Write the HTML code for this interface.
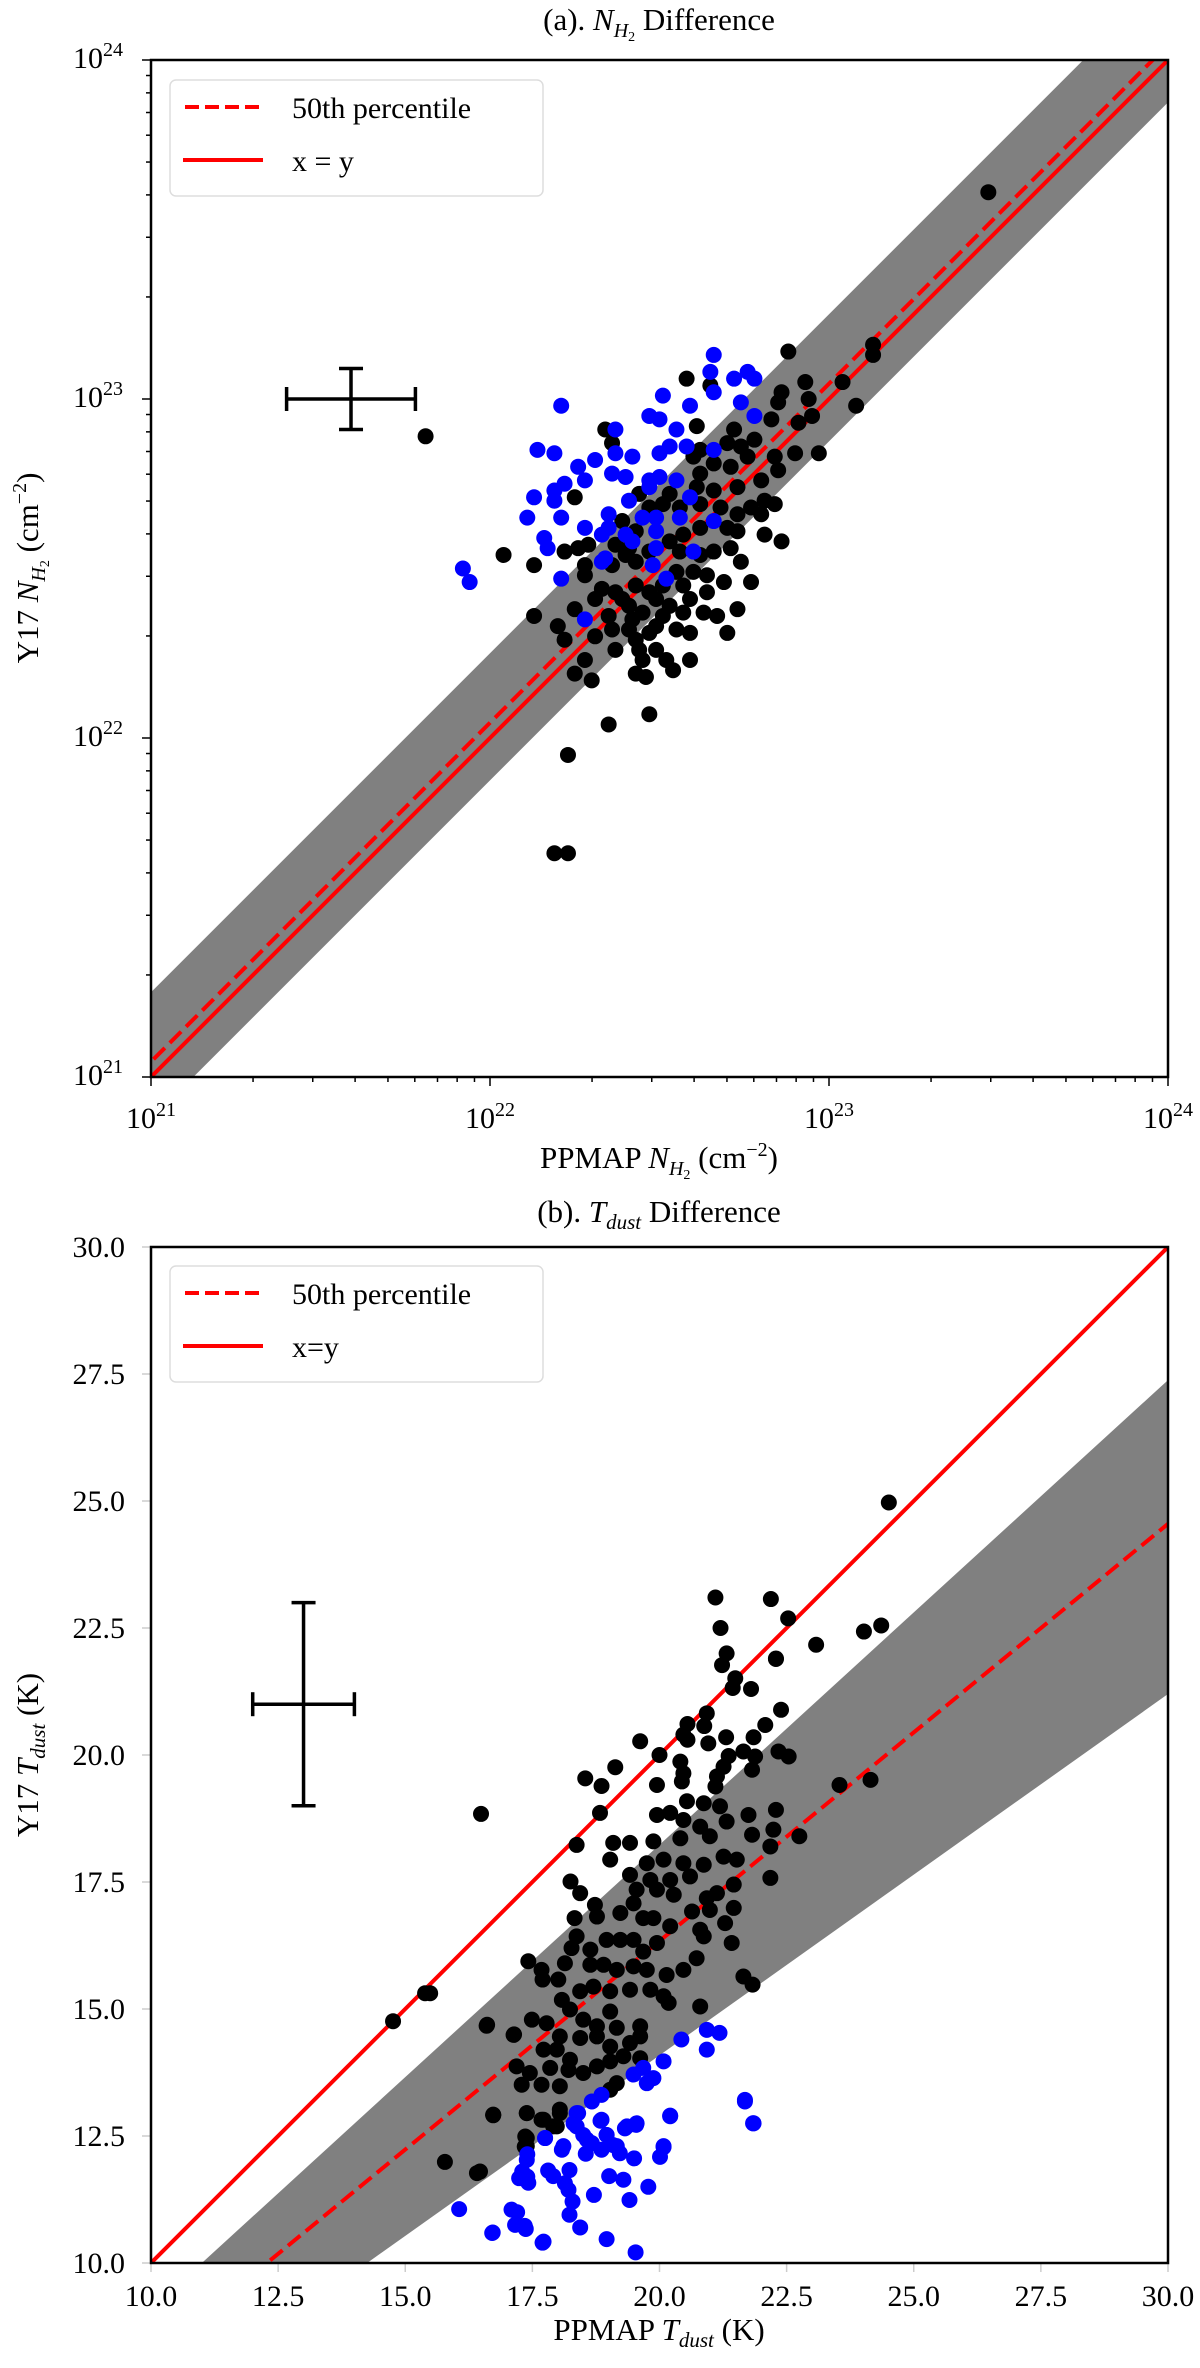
<!DOCTYPE html>
<html><head><meta charset="utf-8"><style>
html,body{margin:0;padding:0;background:#fff;width:1200px;height:2368px;overflow:hidden;}
svg{display:block;font-family:"Liberation Serif",serif;}
</style></head>
<body>
<svg id="fig" width="1200" height="2368" viewBox="0 0 1200 2368" xmlns="http://www.w3.org/2000/svg">
<defs>
<clipPath id="clipA"><rect x="151" y="60" width="1017" height="1017"/></clipPath>
<clipPath id="clipB"><rect x="151" y="1247" width="1017" height="1016"/></clipPath>
</defs>
<g id="panelA"></g>
<g id="panelB"></g>
</svg>
<script>
// ===== Panel A data (log10 column density, cm^-2) =====
const aBlueX=[22.66,22.65,22.72,22.76,22.78,22.66,22.74,22.51,22.59,22.21,22.47,22.50,22.37,22.55,22.78,22.14,22.19,22.31,22.37,22.42,22.26,22.28,22.36,22.40,22.22,22.19,22.13,22.19,22.41,22.47,22.50,22.55,22.47,22.59,22.50,22.53,22.58,22.66,22.11,22.21,22.28,22.35,22.35,22.33,22.45,22.49,22.56,22.66,22.49,22.40,22.42,22.16,22.17,22.49,22.60,22.34,22.33,21.92,21.94,22.21,22.48,22.52,22.28];
const aBlueY=[23.13,23.08,23.06,23.08,23.06,23.02,22.99,23.01,22.98,22.98,22.95,22.94,22.91,22.91,22.95,22.85,22.84,22.82,22.84,22.83,22.80,22.76,22.78,22.77,22.75,22.73,22.71,22.70,22.70,22.76,22.77,22.76,22.74,22.71,22.84,22.86,22.86,22.85,22.65,22.65,22.62,22.66,22.62,22.60,22.65,22.65,22.65,22.64,22.61,22.60,22.58,22.59,22.56,22.56,22.55,22.53,22.52,22.50,22.46,22.47,22.51,22.47,22.35];
const aBlackX=[22.88,23.13,23.13,22.58,22.65,23.04,22.93,22.86,22.85,22.94,23.08,22.95,22.91,22.83,22.61,22.34,22.36,22.72,22.78,22.70,22.74,22.62,22.60,22.97,22.90,22.84,22.76,22.66,22.71,22.62,22.85,22.80,22.73,22.66,22.61,22.53,22.44,22.25,22.81,22.84,22.77,22.80,22.73,22.68,22.62,22.56,22.51,22.47,22.39,22.43,22.62,22.70,22.73,22.81,22.86,22.57,22.53,22.41,22.37,22.29,22.22,22.26,22.04,22.13,22.28,22.28,22.36,22.40,22.43,22.47,22.56,22.62,22.66,22.71,22.74,22.69,22.77,22.64,22.60,22.55,22.51,22.57,22.64,22.47,22.43,22.37,22.33,22.31,22.39,22.49,22.53,22.59,22.63,22.67,22.73,22.70,22.57,22.51,22.45,22.41,22.35,22.25,22.13,22.20,22.22,22.31,22.36,22.41,22.43,22.47,22.55,22.59,22.44,22.49,22.52,22.45,22.59,22.54,22.28,22.25,22.30,22.43,22.46,22.47,22.35,22.23,22.42,22.49,22.37,21.81,23.47,22.19,22.23];
const aBlackY=[23.14,23.16,23.13,23.06,23.04,23.05,23.05,23.02,22.99,23.00,22.98,22.95,22.93,22.94,22.92,22.91,22.87,22.91,22.88,22.87,22.86,22.85,22.83,22.84,22.84,22.83,22.83,22.81,22.80,22.78,22.79,22.76,22.74,22.73,22.74,22.72,22.72,22.71,22.70,22.69,22.68,22.66,22.66,22.68,22.69,22.68,22.69,22.68,22.64,22.61,22.62,22.62,22.61,22.60,22.58,22.60,22.58,22.56,22.57,22.57,22.55,22.56,22.54,22.51,22.51,22.48,22.51,22.54,22.52,22.55,22.55,22.54,22.55,22.56,22.52,22.46,22.46,22.48,22.49,22.49,22.45,22.45,22.43,22.43,22.45,22.43,22.44,22.41,22.41,22.41,22.39,22.41,22.37,22.36,22.38,22.31,22.37,22.36,22.37,22.39,22.36,22.38,22.36,22.33,22.29,22.30,22.32,22.32,22.29,22.31,22.32,22.31,22.26,22.26,22.23,22.23,22.23,22.20,22.23,22.19,22.17,22.19,22.18,22.07,22.04,21.95,22.35,22.33,22.26,22.89,23.61,21.66,21.66];
const aTicks=[21,22,23,24];
const aOffsets=[0.045,0.25,-0.125]; // median offset, band upper, band lower (dex)
const aErr=[21.59,23.0,0.19,0.09];  // x, y, xerr, yerr (dex)

// ===== Panel B data (K) =====
const bBlackX=[21.32,21.23,22.29,21.49,21.44,21.80,22.39,20.93,20.55,20.88,20.47,20.55,20.96,21.31,21.85,22.08,19.62,20.00,20.41,20.47,20.44,21.65,21.88,22.34,22.54,21.82,21.36,21.26,21.13,21.10,19.13,18.54,18.86,19.95,23.54,24.15,16.49,18.83,20.54,20.87,21.19,19.95,20.21,20.47,20.80,21.32,21.75,22.29,22.24,21.82,22.75,22.18,20.99,20.41,19.88,19.09,19.42,19.03,18.37,19.75,20.08,20.47,20.87,21.26,21.52,19.42,19.82,20.21,20.60,21.46,21.13,22.18,18.25,18.44,19.55,19.95,20.28,19.49,18.73,18.77,19.23,19.68,19.88,20.64,20.99,21.46,20.93,18.33,20.21,20.80,21.29,21.42,20.87,19.95,19.68,18.37,18.27,18.64,18.96,19.23,19.49,17.42,17.68,17.70,18.01,18.14,18.64,18.90,19.16,19.49,19.75,20.14,20.47,20.73,21.65,21.83,20.80,20.18,20.08,19.82,19.42,19.03,18.70,18.44,18.08,18.24,18.50,19.03,18.77,19.16,19.62,17.49,17.78,16.60,17.13,18.04,18.44,18.77,19.03,19.42,19.62,17.98,17.72,18.24,18.50,18.77,19.03,19.29,19.62,17.19,17.45,17.85,18.21,17.29,17.68,18.04,19.16,19.03,18.04,16.73,17.39,17.72,17.98,17.36,17.39,24.51,22.19,22.53,23.08,22.29,24.02,24.36,16.73,17.39,17.68,18.04,17.91,17.39,17.35,16.47,14.76,15.39,15.49,16.61,17.14,16.73,15.78,16.41,21.10,21.20];
const bBlackY=[22.00,21.77,21.89,21.51,21.32,21.30,20.89,20.82,20.61,20.57,20.40,20.30,20.23,20.35,20.35,20.59,20.27,20.00,19.87,19.64,19.48,20.07,19.97,20.07,19.97,19.71,19.98,19.77,19.58,19.38,19.76,19.54,19.39,19.41,19.41,19.51,18.84,18.86,19.09,19.05,18.99,18.82,18.86,18.72,18.59,18.69,18.82,18.92,18.53,18.43,18.40,18.20,18.40,18.36,18.30,18.27,18.27,17.94,18.23,17.87,17.94,17.87,17.84,18.00,17.94,17.64,17.54,17.54,17.61,17.45,17.28,17.58,17.51,17.28,17.35,17.35,17.25,17.08,17.05,16.82,16.89,16.79,16.79,16.92,16.95,16.99,17.18,16.79,16.63,16.56,16.69,16.30,16.43,16.30,16.13,16.43,16.20,16.17,16.36,16.36,16.36,15.94,15.77,15.58,15.58,15.90,15.87,15.87,15.77,15.84,15.77,15.67,15.77,16.00,15.64,15.48,15.05,15.12,15.25,15.38,15.38,15.35,15.44,15.35,15.18,14.99,14.79,14.95,14.66,14.63,14.66,14.79,14.72,14.67,14.49,14.46,14.43,14.46,14.26,14.33,14.46,14.20,14.20,14.00,13.74,13.87,13.97,14.07,14.03,13.87,13.74,13.84,13.80,13.51,13.51,13.48,13.54,13.41,13.02,12.92,12.95,12.82,12.69,12.49,12.30,24.97,23.07,22.69,22.17,21.90,22.43,22.55,12.91,12.95,12.82,12.95,12.69,12.46,12.29,11.80,14.76,15.31,15.31,14.69,14.50,12.91,11.99,11.77,23.10,22.50];
const bBlueX=[20.93,21.18,20.43,20.93,20.08,19.68,19.49,19.88,19.75,18.86,18.67,21.68,21.85,20.21,18.86,18.40,18.31,19.36,19.55,17.75,18.96,18.57,20.08,18.11,19.16,20.21,21.84,21.68,19.32,19.54,18.84,18.37,18.37,18.50,18.96,18.67,19.09,18.86,19.22,18.55,19.50,20.08,20.01,17.75,18.08,17.81,17.39,18.23,17.91,18.14,17.24,17.42,18.21,19.01,19.29,19.78,18.71,19.41,18.29,18.23,17.09,17.16,17.35,18.44,16.72,17.72,18.96,19.53,16.06,16.71,17.20,17.37,17.40,17.30,17.40,17.70];
const bBlueY=[14.59,14.53,14.40,14.20,13.97,13.84,13.71,13.64,13.54,13.31,13.18,13.21,12.75,12.89,12.82,12.95,12.75,12.69,12.75,12.46,12.52,12.43,12.30,12.30,12.30,12.90,12.75,13.18,12.65,12.72,12.80,12.95,12.69,12.52,12.52,12.36,12.32,12.23,12.16,12.15,12.06,12.28,12.09,12.46,12.23,11.82,12.03,11.83,11.71,11.57,11.67,11.58,11.44,11.71,11.64,11.50,11.34,11.24,11.21,10.95,11.05,10.75,10.73,10.70,10.60,10.42,10.47,10.21,11.06,10.59,11.00,10.67,12.14,11.80,11.70,10.40];
const bTicks=[10,12.5,15,17.5,20,22.5,25,27.5,30];
const bMedian=[12.28,10,30,24.55];   // x0,y0,x1,y1
const bBandTop=[11.0,10,30,27.38];
const bBandBot=[14.25,10,30,21.2];
const bErr=[13.0,21.0,1.0,2.0];

const NS="http://www.w3.org/2000/svg";
function mk(tag,attrs,parent){const e=document.createElementNS(NS,tag);for(const k in attrs)e.setAttribute(k,attrs[k]);parent.appendChild(e);return e;}

const L=151,R=1168;
const axA={x:v=>L+(v-21)/3*(R-L), y:v=>1077-(v-21)/3*1017};
const axB={x:v=>L+(v-10)/20*(R-L), y:v=>2263-(v-10)/20*1016};

function frame(g,top,h){
  const r=mk('rect',{x:L,y:top,width:R-L,height:h,fill:'none',stroke:'#000','stroke-width':2.5},g);
  
  
}
function dots(g,xs,ys,ax,color,clip,name){
  const gg=mk('g',{'clip-path':clip},g);
  
  
  for(let i=0;i<xs.length;i++){
    const c=mk('circle',{cx:ax.x(xs[i]),cy:ax.y(ys[i]),r:8,fill:color},gg);
    
    
  }
}
function errbar(g,ax,e,name){
  const gg=mk('g',{stroke:'#000','stroke-width':3.5,fill:'none'},g);
  
  
  const cx=ax.x(e[0]),cy=ax.y(e[1]);
  const x0=ax.x(e[0]-e[2]),x1=ax.x(e[0]+e[2]),y0=ax.y(e[1]-e[3]),y1=ax.y(e[1]+e[3]);
  mk('line',{x1:x0,y1:cy,x2:x1,y2:cy},gg);
  mk('line',{x1:cx,y1:y0,x2:cx,y2:y1},gg);
  mk('line',{x1:x0,y1:cy-12,x2:x0,y2:cy+12},gg);
  mk('line',{x1:x1,y1:cy-12,x2:x1,y2:cy+12},gg);
  mk('line',{x1:cx-12,y1:y0,x2:cx+12,y2:y0},gg);
  mk('line',{x1:cx-12,y1:y1,x2:cx+12,y2:y1},gg);
}
function legend(g,top,solidLabel){
  const gg=mk('g',{},g);
  
  
  mk('rect',{x:170,y:top,width:373,height:116,rx:6,fill:'#fff','fill-opacity':0.85,stroke:'#ddd','stroke-width':1.5},gg);
  const d=mk('line',{x1:185,y1:top+27,x2:260,y2:top+27,stroke:'#f00','stroke-width':4,'stroke-dasharray':'14,6'},gg);
  
  
  const s=mk('line',{x1:183,y1:top+80,x2:263,y2:top+80,stroke:'#f00','stroke-width':4},gg);
  
  
  const t1=mk('text',{x:292,y:top+38,'font-size':30,fill:'#000'},gg);t1.textContent='50th percentile';
  
  
  const t2=mk('text',{x:292,y:top+91,'font-size':30,fill:'#000'},gg);t2.textContent=solidLabel;
  
  
}
function txt(g,x,y,s,size,anchor,name){
  const t=mk('text',{x:x,y:y,'font-size':size,'text-anchor':anchor||'middle',fill:'#000'},g);
  t.innerHTML=s;
  
  
  return t;
}

// ===== Panel A =====
(function(){
  const g=document.getElementById('panelA');
  const cg=mk('g',{'clip-path':'url(#clipA)'},g);
  const up=aOffsets[1],lo=aOffsets[2];
  const band=mk('polygon',{points:[[axA.x(20),axA.y(20+up)],[axA.x(25),axA.y(25+up)],[axA.x(25),axA.y(25+lo)],[axA.x(20),axA.y(20+lo)]].map(p=>p.join(',')).join(' '),fill:'#808080'},cg);
  
  
  const l1=mk('line',{x1:axA.x(20),y1:axA.y(20),x2:axA.x(25),y2:axA.y(25),stroke:'#f00','stroke-width':4},cg);
  
  
  const l2=mk('line',{x1:axA.x(20),y1:axA.y(20+aOffsets[0]),x2:axA.x(25),y2:axA.y(25+aOffsets[0]),stroke:'#f00','stroke-width':4,'stroke-dasharray':'16,7'},cg);
  
  
  dots(g,aBlackX,aBlackY,axA,'#000','url(#clipA)','black-points');
  dots(g,aBlueX,aBlueY,axA,'#0000ff','url(#clipA)','blue-points');
  errbar(g,axA,aErr,'typical-error-bar');
  legend(g,80,'x = y');
  const tg=mk('g',{stroke:'#000','stroke-width':1.5},g);
  
  
  for(let d=21;d<24;d++){for(let m=1;m<10;m++){const v=d+Math.log10(m);const len=m===1?9:5;
    mk('line',{x1:axA.x(v),y1:1077,x2:axA.x(v),y2:1077+len},tg);
    mk('line',{x1:L,y1:axA.y(v),x2:L-len,y2:axA.y(v)},tg);}}
  mk('line',{x1:R,y1:1077,x2:R,y2:1086},tg);mk('line',{x1:L,y1:60,x2:L-9,y2:60},tg);
  aTicks.forEach(v=>{
    txt(g,axA.x(v),1128,'10<tspan dy="-12" font-size="20">'+v+'</tspan>',30,'middle','x-tick-label');
    txt(g,123,axA.y(v)+8,'10<tspan dy="-12" font-size="20">'+v+'</tspan>',30,'end','y-tick-label');
  });
  frame(g,60,1017);
  txt(g,659,30,'(a). <tspan font-style="italic">N</tspan><tspan font-style="italic" font-size="20" dy="7">H</tspan><tspan font-size="14" dy="4">2</tspan><tspan dy="-11"> Difference</tspan>',31,'middle','panel-a-title');
  txt(g,659,1168,'PPMAP <tspan font-style="italic">N</tspan><tspan font-style="italic" font-size="20" dy="7">H</tspan><tspan font-size="14" dy="4">2</tspan><tspan dy="-11"> (cm</tspan><tspan font-size="20" dy="-12">−2</tspan><tspan dy="12">)</tspan>',31,'middle','x-axis-title-a');
  const yt=txt(g,0,0,'Y17 <tspan font-style="italic">N</tspan><tspan font-style="italic" font-size="20" dy="7">H</tspan><tspan font-size="14" dy="4">2</tspan><tspan dy="-11"> (cm</tspan><tspan font-size="20" dy="-12">−2</tspan><tspan dy="12">)</tspan>',31,'middle','y-axis-title-a');
  yt.setAttribute('transform','translate(38,568) rotate(-90)');
})();

// ===== Panel B =====
(function(){
  const g=document.getElementById('panelB');
  const cg=mk('g',{'clip-path':'url(#clipB)'},g);
  function lineAt(p,x){return p[1]+(p[3]-p[1])/(p[2]-p[0])*(x-p[0]);}
  const pts=[[5,lineAt(bBandTop,5)],[35,lineAt(bBandTop,35)],[35,lineAt(bBandBot,35)],[5,lineAt(bBandBot,5)]];
  const band=mk('polygon',{points:pts.map(p=>axB.x(p[0])+','+axB.y(p[1])).join(' '),fill:'#808080'},cg);
  
  
  const l1=mk('line',{x1:axB.x(5),y1:axB.y(5),x2:axB.x(35),y2:axB.y(35),stroke:'#f00','stroke-width':4},cg);
  
  
  const l2=mk('line',{x1:axB.x(5),y1:axB.y(lineAt(bMedian,5)),x2:axB.x(35),y2:axB.y(lineAt(bMedian,35)),stroke:'#f00','stroke-width':4,'stroke-dasharray':'16,7'},cg);
  
  
  dots(g,bBlackX,bBlackY,axB,'#000','url(#clipB)','black-points');
  dots(g,bBlueX,bBlueY,axB,'#0000ff','url(#clipB)','blue-points');
  errbar(g,axB,bErr,'typical-error-bar');
  legend(g,1266,'x=y');
  const tg=mk('g',{stroke:'#ccc','stroke-width':1.5},g);
  
  
  bTicks.forEach(v=>{
    mk('line',{x1:axB.x(v),y1:2263,x2:axB.x(v),y2:2272},tg);
    mk('line',{x1:L,y1:axB.y(v),x2:L-9,y2:axB.y(v)},tg);
    txt(g,axB.x(v),2306,v.toFixed(1),30,'middle','x-tick-label');
    txt(g,125,axB.y(v)+10,v.toFixed(1),30,'end','y-tick-label');
  });
  frame(g,1247,1016);
  txt(g,659,1222,'(b). <tspan font-style="italic">T</tspan><tspan font-style="italic" font-size="21" dy="7">dust</tspan><tspan dy="-7"> Difference</tspan>',31,'middle','panel-b-title');
  txt(g,659,2340,'PPMAP <tspan font-style="italic">T</tspan><tspan font-style="italic" font-size="21" dy="7">dust</tspan><tspan dy="-7"> (K)</tspan>',31,'middle','x-axis-title-b');
  const yt=txt(g,0,0,'Y17 <tspan font-style="italic">T</tspan><tspan font-style="italic" font-size="21" dy="7">dust</tspan><tspan dy="-7"> (K)</tspan>',31,'middle','y-axis-title-b');
  yt.setAttribute('transform','translate(38,1755) rotate(-90)');
})();
</script>
</body></html>
